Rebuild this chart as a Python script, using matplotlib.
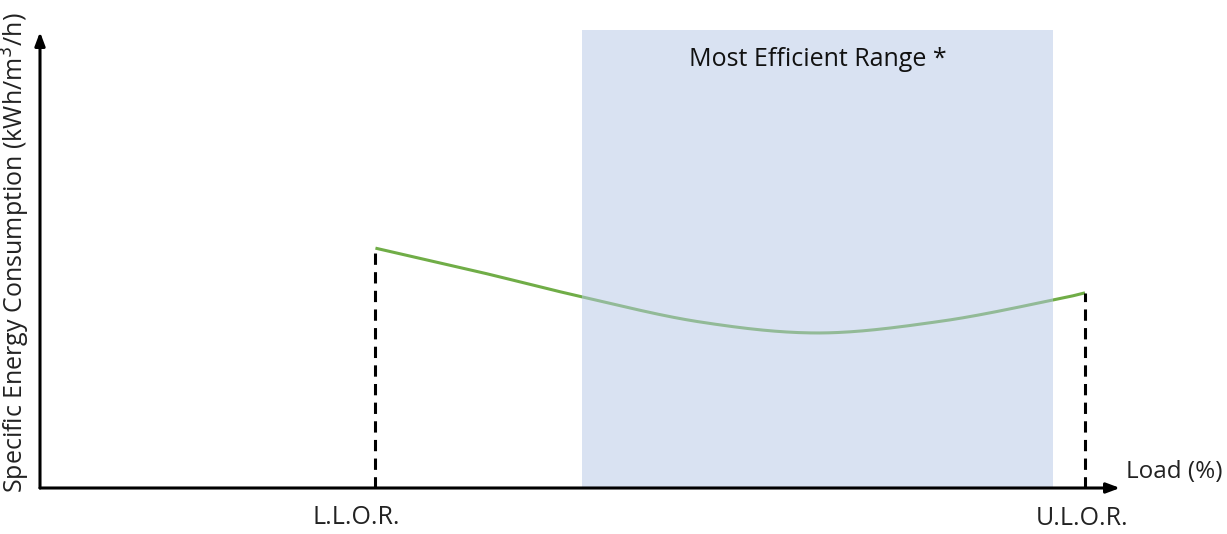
import matplotlib.pyplot as plt
import numpy as np

# load (%) along the x axis, origin = 0
load = [32.1, 42.0, 51.9, 63.2, 74.6, 86.3, 96.9, 100]
# specific energy consumption (arbitrary units) between LLOR and ULOR
sec = [52.6, 47.4, 41.9, 36.4, 34.0, 36.6, 41.2, 42.8]
llor, ulor = 32.1, 100
range_lo, range_hi = 51.9, 96.9
tick_labels = ["L.L.O.R.", "U.L.O.R."]

plt.rcParams['font.family'] = ['Open Sans', 'DejaVu Sans']


def catmull(x, y, n=40):
    # simple catmull-rom pass through the read points
    x = np.asarray(x, float)
    y = np.asarray(y, float)
    px = np.concatenate([[2 * x[0] - x[1]], x, [2 * x[-1] - x[-2]]])
    py = np.concatenate([[2 * y[0] - y[1]], y, [2 * y[-1] - y[-2]]])
    ox, oy = [], []
    t = np.linspace(0, 1, n, endpoint=False)
    for i in range(1, len(px) - 2):
        for p, o in ((px, ox), (py, oy)):
            p0, p1, p2, p3 = p[i - 1], p[i], p[i + 1], p[i + 2]
            o.extend(0.5 * (2 * p1 + (-p0 + p2) * t + (2 * p0 - 5 * p1 + 4 * p2 - p3) * t ** 2
                            + (-p0 + 3 * p1 - 3 * p2 + p3) * t ** 3))
    ox.append(x[-1])
    oy.append(y[-1])
    return np.array(ox), np.array(oy)


fig = plt.figure(figsize=(12.27, 5.34), dpi=100)
ax = fig.add_axes([40 / 1227, 46 / 534, 1080 / 1227, 456 / 534])
ax.set_xlim(0, 103.35)
ax.set_ylim(0, 100)
for s in ax.spines.values():
    s.set_visible(False)
ax.set_xticks([])
ax.set_yticks([])

xs, ys = catmull(load, sec)
ax.plot(xs, ys, color='#70AD47', lw=2.2, zorder=2, solid_capstyle='butt')
ax.axvspan(range_lo, range_hi, ymin=0, ymax=1.005, color='#B5C7E7', alpha=0.5, lw=0, zorder=3,
           clip_on=False)

dash = (0, (3.7, 2.4))
ax.plot([llor, llor], [0, sec[0]], color='black', lw=2.2, ls=dash, zorder=4)
ax.plot([ulor, ulor], [0, sec[-1]], color='black', lw=2.2, ls=dash, zorder=4)

arrow = dict(arrowstyle='-|>,head_length=0.8,head_width=0.3', color='black', lw=2.2,
             shrinkA=0, shrinkB=0)
ax.annotate('', xy=(103.35, 0), xytext=(0, 0), arrowprops=arrow, zorder=5)
ax.annotate('', xy=(0, 100), xytext=(0, 0), arrowprops=arrow, zorder=5)

ax.text(103.9, 3.5, 'Load (%)', fontsize=17.5, va='center', ha='left', color='#222222')
# label sits a bit left of the LLOR line in the original
ax.text(llor - 1.85, -6.4, tick_labels[0], fontsize=18, va='center', ha='center', color='#222222')
ax.text(ulor - 0.3, -6.6, tick_labels[1], fontsize=18, va='center', ha='center', color='#222222')
ax.text((range_lo + range_hi) / 2, 94.0, 'Most Efficient Range *', fontsize=18, va='center',
        ha='center', color='#111111', zorder=6)
fig.text(15 / 1227, 1 - 253 / 534, 'Specific Energy Consumption (kWh/m$^3$/h)', rotation=90,
         fontsize=18, va='center', ha='center', color='#222222')

fig.savefig('out.png', dpi=100)
